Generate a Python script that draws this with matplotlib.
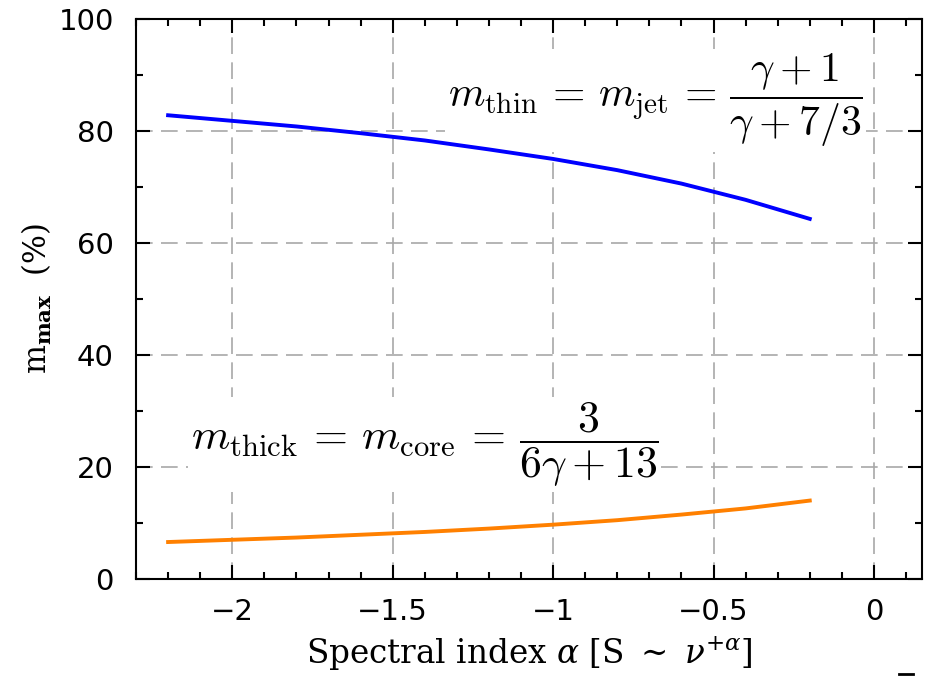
import matplotlib
matplotlib.use("Agg")
import matplotlib.pyplot as plt
from matplotlib.ticker import MultipleLocator

alpha = [-2.2, -2.0, -1.8, -1.6, -1.4, -1.2, -1.0, -0.8, -0.6, -0.4, -0.2]
# optically thin / jet maximum polarisation (%)
m_thin = [82.8, 81.8, 80.8, 79.6, 78.3, 76.7, 75.0, 73.0, 70.6, 67.7, 64.3]
# optically thick / core maximum polarisation (%)
m_thick = [6.6, 7.0, 7.4, 7.9, 8.4, 9.0, 9.7, 10.5, 11.5, 12.6, 14.0]

xticks = [-2, -1.5, -1, -0.5, 0]
xticklabels = ['\u22122', '\u22121.5', '\u22121', '\u22120.5', '0']
yticks = [0, 20, 40, 60, 80, 100]

fig = plt.figure(figsize=(9.38, 6.76), dpi=100)
ax = fig.add_axes([0.145, 0.1435, 0.838, 0.8285])

ax.plot(alpha, m_thin, color='#0000ff', lw=2.8, zorder=3)
ax.plot(alpha, m_thick, color='#ff8000', lw=2.8, zorder=3)

ax.set_xlim(-2.3, 0.15)
ax.set_ylim(0, 100)
ax.set_xticks(xticks)
ax.set_xticklabels(xticklabels)
ax.set_yticks(yticks)
ax.xaxis.set_minor_locator(MultipleLocator(0.1))
ax.yaxis.set_minor_locator(MultipleLocator(10))
ax.tick_params(which='both', direction='in', top=True, right=True, width=1.5,
               labelsize=21, labelfontfamily='DejaVu Sans')
ax.tick_params(axis='x', which='major', pad=14)
ax.tick_params(axis='y', which='major', pad=16)
ax.tick_params(which='major', length=10)
ax.tick_params(which='minor', length=5)
for s in ax.spines.values():
    s.set_linewidth(1.5)

ax.grid(True, which='major', ls=(0, (10, 5)), color='#a8a8a8', lw=1.2, zorder=1)

ax.set_xlabel(r'Spectral index $\alpha$ [S $\sim$ $\nu^{+\alpha}$]',
              family='DejaVu Serif', fontsize=23.5, labelpad=6, math_fontfamily='dejavuserif')
ax.set_ylabel(r'm$_{\mathbf{max}}$  (%)', family='DejaVu Serif', fontsize=22,
              labelpad=3, math_fontfamily='dejavuserif')

box = dict(facecolor='white', edgecolor='none', pad=2)
ax.text(-0.68, 85.5, r'$m_{\rm thin} \,=\, m_{\rm jet} \,=\, \dfrac{\gamma + 1}{\gamma + 7/3}$',
        fontsize=30, ha='center', va='center', bbox=box, zorder=2, math_fontfamily='cm')
ax.text(-1.40, 24.0, r'$m_{\rm thick} \,=\, m_{\rm core} \,=\, \dfrac{3}{6\gamma + 13}$',
        fontsize=31.5, ha='center', va='center', bbox=box, zorder=2, math_fontfamily='cm')

# small stray mark at the bottom right of the original image
fig.add_artist(plt.Line2D([0.958, 0.973], [0.003, 0.003], color='black', lw=2))

fig.savefig('out.png', dpi=100)
